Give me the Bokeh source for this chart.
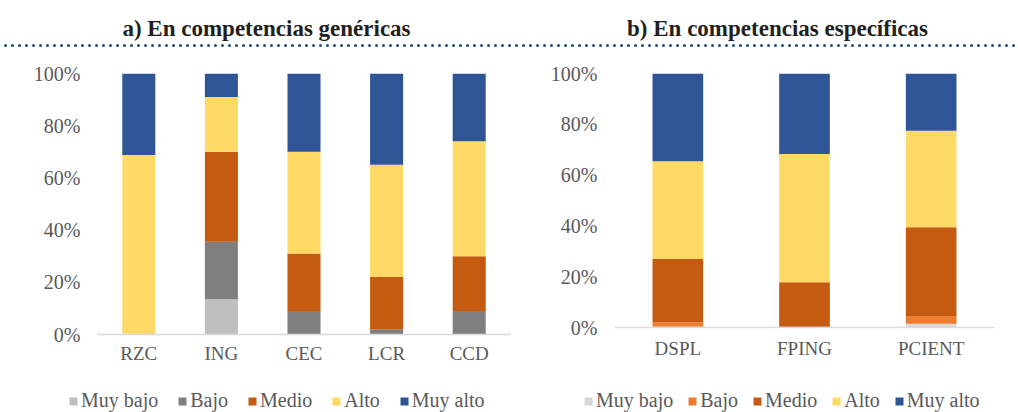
from bokeh.plotting import figure
from bokeh.models import (Range1d, FactorRange, FixedTicker, NumeralTickFormatter,
                          Legend, LegendItem, Label, ColumnDataSource, Span)
from bokeh.layouts import column, row
from bokeh.embed import file_html
from bokeh.resources import INLINE

levels = ["Muy bajo", "Bajo", "Medio", "Alto", "Muy alto"]

gen_cats = ["RZC", "ING", "CEC", "LCR", "CCD"]
gen_muy_bajo = [0.3, 13.5, 0, 0, 0]
gen_bajo = [0, 22, 9, 2, 9]
gen_medio = [0, 34.5, 22, 20, 21]
gen_alto = [68.5, 21, 39, 43, 44]
gen_muy_alto = [31.2, 9, 30, 35, 26]

esp_cats = ["DSPL", "FPING", "PCIENT"]
esp_muy_bajo = [0.3, 0, 1.5]
esp_bajo = [1.7, 0.3, 3]
esp_medio = [25, 17.5, 35]
esp_alto = [38.5, 50.5, 38]
esp_muy_alto = [34.5, 31.7, 22.5]

y_ticks = [0, 0.2, 0.4, 0.6, 0.8, 1.0]

gen_colors = ["#BFBFBF", "#7F7F7F", "#C55A11", "#FFD966", "#2F5597"]
esp_colors = ["#D9D9D9", "#ED7D31", "#C55A11", "#FFD966", "#2F5597"]

title_a = "a) En competencias genéricas"
title_b = "b) En competencias específicas"

FONT = "Liberation Serif"
TXT = "#595959"

# frame geometry (pixels): both frames span 73..334 vertically
FRAME_TOP, FRAME_BOT = 73, 334


def make_chart(cats, series, colors, width, bl, br, zero_px, label_standoff):
    keys = ["s%d" % i for i in range(len(levels))]
    data = {"cat": cats}
    for k, s in zip(keys, series):
        data[k] = [v / 100.0 for v in s]
    src = ColumnDataSource(data)
    ystart = -(FRAME_BOT - zero_px) / (zero_px - FRAME_TOP)
    p = figure(x_range=FactorRange(*cats), y_range=Range1d(ystart, 1),
               width=width, height=332, output_backend="svg",
               toolbar_location=None, min_border_left=bl, min_border_right=br,
               min_border_top=FRAME_TOP - 50, min_border_bottom=382 - FRAME_BOT)
    p.vbar_stack(keys, x="cat", width=0.4, source=src, color=colors,
                 line_color=None)
    p.x_range.range_padding = 0
    p.outline_line_color = None
    p.xgrid.visible = False
    p.ygrid.visible = False
    p.yaxis.ticker = FixedTicker(ticks=y_ticks)
    p.yaxis.formatter = NumeralTickFormatter(format="0%")
    p.yaxis.axis_line_color = None
    p.yaxis.major_tick_line_color = None
    p.yaxis.minor_tick_line_color = None
    p.yaxis.major_tick_out = 0
    p.yaxis.major_label_standoff = 17
    p.yaxis.major_label_text_font_size = "20px"
    if zero_px == FRAME_BOT:
        p.xaxis.axis_line_color = "#D9D9D9"
        p.xaxis.axis_line_width = 1.5
    else:
        p.xaxis.axis_line_color = None
        p.add_layout(Span(location=0, dimension="width",
                          line_color="#D9D9D9", line_width=1.5))
    p.xaxis.major_tick_line_color = None
    p.xaxis.minor_tick_line_color = None
    p.xaxis.major_tick_out = 0
    p.xaxis.major_label_standoff = label_standoff
    p.xaxis.major_label_text_font_size = "19px"
    for ax in (p.xaxis, p.yaxis):
        ax.major_label_text_font = FONT
        ax.major_label_text_color = TXT
    return p


def make_legend(colors, width, height, x0, spacing):
    f = figure(width=width, height=height, x_range=Range1d(0, width),
               y_range=Range1d(0, height), output_backend="svg",
               toolbar_location=None, min_border=0)
    f.axis.visible = False
    f.grid.visible = False
    f.outline_line_color = None
    items = []
    for lab, c in zip(levels, colors):
        # off-screen placeholder, only used for the legend swatch
        r = f.vbar(x=[-100], top=[0], width=1, color=c, line_color=None)
        items.append(LegendItem(label=lab, renderers=[r]))
    leg = Legend(items=items, orientation="horizontal", location=(x0, 0),
                 glyph_width=10, glyph_height=10, label_standoff=3,
                 spacing=spacing, padding=0, margin=0,
                 border_line_color=None, background_fill_alpha=0,
                 label_text_font=FONT, label_text_font_size="20px",
                 label_text_color=TXT)
    f.add_layout(leg)
    return f


header = figure(width=1018, height=50, x_range=Range1d(0, 1018),
                y_range=Range1d(50, 0), output_backend="svg",
                toolbar_location=None, min_border=0)
header.axis.visible = False
header.grid.visible = False
header.outline_line_color = None
header.line(x=[5, 1015], y=[45, 45], line_color="#1F4E79", line_width=3,
            line_dash="0 7", line_cap="round")
for txt, xc in ((title_a, 266), (title_b, 777)):
    header.add_layout(Label(x=xc, y=28, text=txt, text_align="center",
                            text_baseline="alphabetic", text_font=FONT,
                            text_font_style="bold", text_font_size="23px",
                            text_color="#231F20"))

left = make_chart(gen_cats,
                  [gen_muy_bajo, gen_bajo, gen_medio, gen_alto, gen_muy_alto],
                  gen_colors, 514, 97, 4, 334, 8)
right = make_chart(esp_cats,
                   [esp_muy_bajo, esp_bajo, esp_medio, esp_alto, esp_muy_alto],
                   esp_colors, 504, 100, 24, 327, 3)

leg_left = make_legend(gen_colors, 514, 30, 68, 19)
leg_right = make_legend(esp_colors, 504, 30, 69, 14)

layout = column(header, row(left, right, spacing=0),
                row(leg_left, leg_right, spacing=0), spacing=0)
open("out.html", "w").write(file_html(layout, INLINE))
